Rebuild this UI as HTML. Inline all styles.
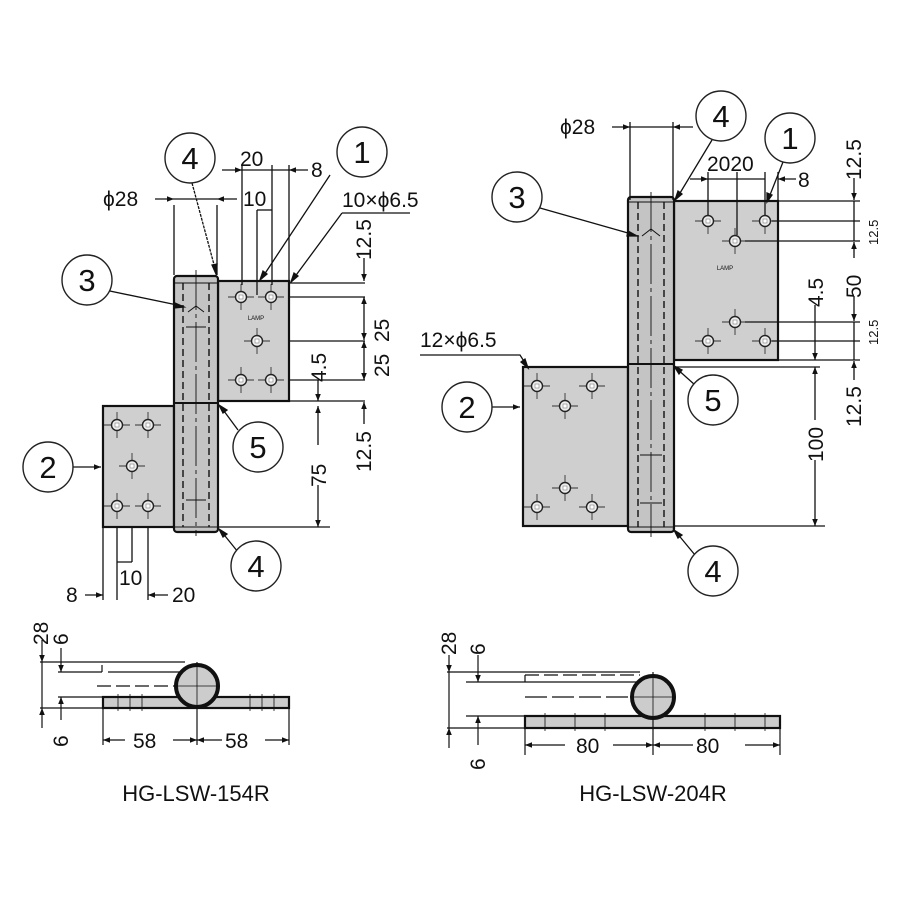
<!DOCTYPE html>
<html><head><meta charset="utf-8"><style>
html,body{margin:0;padding:0;background:#fff}
svg{display:block}
text{font-family:"Liberation Sans",sans-serif;fill:#111}
</style></head><body>
<svg width="900" height="900" viewBox="0 0 900 900" xmlns="http://www.w3.org/2000/svg">
<defs>
<g id="h"><line x1="-13" y1="0" x2="13" y2="0" stroke="#333" stroke-width="0.9"/><line x1="0" y1="-13" x2="0" y2="13" stroke="#333" stroke-width="0.9"/><circle r="5.5" fill="#eee" stroke="#222" stroke-width="1.4"/><rect x="-2" y="-2" width="4" height="4" fill="#fff" stroke="#666" stroke-width="0.5"/></g>
<marker id="a" viewBox="0 0 10 10" refX="10" refY="5" markerWidth="10" markerHeight="7" orient="auto-start-reverse" markerUnits="userSpaceOnUse"><path d="M0,1 L10,5 L0,9z" fill="#111"/></marker>
</defs>
<g stroke="#111" fill="none">
<rect x="218" y="281" width="71" height="120" fill="#cfcfcf" stroke-width="2.2"/>
<rect x="103" y="406" width="71" height="121" fill="#cfcfcf" stroke-width="2.2"/>
<rect x="174" y="276" width="44" height="256" rx="3" fill="#c4c4c4" stroke-width="2.2"/>
<line x1="174" y1="283" x2="218" y2="283" stroke-width="1"/>
<line x1="174" y1="403" x2="218" y2="403" stroke-width="2"/>
<line x1="174" y1="527" x2="218" y2="527" stroke-width="1"/>
<line x1="183" y1="283" x2="183" y2="527" stroke-dasharray="7,4" stroke-width="1.4"/>
<line x1="209" y1="283" x2="209" y2="527" stroke-dasharray="7,4" stroke-width="1.4"/>
<line x1="196" y1="270" x2="196" y2="536" stroke-width="0.9" stroke-dasharray="40,4,4,4"/>
<path d="M186,327 h20 M186,500 h20 M188,312 l8,-6 l8,6" stroke-width="1"/>
<rect x="674" y="201" width="104" height="159" fill="#cfcfcf" stroke-width="2.2"/>
<rect x="523" y="367" width="105" height="159" fill="#cfcfcf" stroke-width="2.2"/>
<rect x="628" y="197" width="46" height="335" rx="3" fill="#c4c4c4" stroke-width="2.2"/>
<line x1="628" y1="202" x2="674" y2="202" stroke-width="1"/>
<line x1="628" y1="364" x2="674" y2="364" stroke-width="2"/>
<line x1="628" y1="527" x2="674" y2="527" stroke-width="1"/>
<line x1="638" y1="202" x2="638" y2="527" stroke-dasharray="7,4" stroke-width="1.4"/>
<line x1="664" y1="202" x2="664" y2="527" stroke-dasharray="7,4" stroke-width="1.4"/>
<line x1="651" y1="192" x2="651" y2="537" stroke-width="0.9" stroke-dasharray="40,4,4,4"/>
<path d="M640,455 h22 M640,503 h22 M642,236 l9,-7 l9,7" stroke-width="1"/>
</g>
<use href="#h" x="241" y="297"/><use href="#h" x="271" y="297"/><use href="#h" x="257" y="341"/><use href="#h" x="241" y="380"/><use href="#h" x="271" y="380"/>
<use href="#h" x="117" y="425"/><use href="#h" x="148" y="425"/><use href="#h" x="132" y="466"/><use href="#h" x="117" y="506"/><use href="#h" x="148" y="506"/>
<use href="#h" x="708" y="221"/><use href="#h" x="765" y="221"/><use href="#h" x="735" y="241"/><use href="#h" x="735" y="322"/><use href="#h" x="708" y="341"/><use href="#h" x="765" y="341"/>
<use href="#h" x="537" y="386"/><use href="#h" x="592" y="386"/><use href="#h" x="565" y="406"/><use href="#h" x="565" y="488"/><use href="#h" x="537" y="507"/><use href="#h" x="592" y="507"/>
<text x="256" y="320" font-size="6" text-anchor="middle">LAMP</text>
<text x="725" y="270" font-size="6" text-anchor="middle">LAMP</text>

<g stroke="#111" stroke-width="1.3" fill="none">
<path d="M174,205 V275 M217,205 V275 M242,165 V285 M272,165 V285 M289,165 V285 M257,210 V295"/>
<line x1="155" y1="199" x2="174" y2="199" marker-end="url(#a)"/><line x1="174" y1="199" x2="217" y2="199"/><line x1="237" y1="199" x2="217" y2="199" marker-end="url(#a)"/>
<line x1="222" y1="170" x2="242" y2="170" marker-end="url(#a)"/><line x1="242" y1="170" x2="289" y2="170"/><line x1="308" y1="170" x2="289" y2="170" marker-end="url(#a)"/>
<path d="M257,210 H272"/>
<path d="M342,213 H410 M342,213 L291,282" /><path d="M291,282 l3,-9 l4,3z" fill="#111"/>
<path d="M289,297 H365 M289,341 H365 M289,380 H365 M218,401 H365 M289,283 H365 M218,527 H330"/>
<line x1="364" y1="258" x2="364" y2="281" marker-end="url(#a)"/>
<line x1="364" y1="297" x2="364" y2="340" marker-start="url(#a)" marker-end="url(#a)"/>
<line x1="364" y1="341" x2="364" y2="380" marker-start="url(#a)" marker-end="url(#a)"/>
<line x1="364" y1="424" x2="364" y2="402" marker-end="url(#a)"/>
<line x1="318" y1="380" x2="318" y2="401" marker-end="url(#a)"/>
<line x1="318" y1="445" x2="318" y2="406" marker-end="url(#a)"/>
<line x1="318" y1="485" x2="318" y2="527" marker-end="url(#a)"/>
<path d="M103,527 V600 M117,527 V600 M132,527 V562 M148,527 V600 M117,562 H132"/>
<line x1="85" y1="595" x2="103" y2="595" marker-end="url(#a)"/>
<line x1="168" y1="595" x2="148" y2="595" marker-end="url(#a)"/>
<path d="M192,183 L216,272" stroke-dasharray="3,1"/><path d="M216,274 l-4,-9 l5,-1z" fill="#111"/>
<path d="M330,175 L262,278"/><path d="M260,280 l3,-9 l4,3z" fill="#111"/>
<path d="M105,290 L182,306"/><path d="M184,307 l-9,-4 l-1,5z" fill="#111"/>
<path d="M73,467 L101,467" marker-end="url(#a)"/>
<path d="M238,430 L221,407"/><path d="M219,405 l8,5 l-4,3z" fill="#111"/>
<path d="M238,552 L221,531"/><path d="M219,529 l8,5 l-4,3z" fill="#111"/>

<path d="M630,122 V200 M673,122 V200 M708,172 V215 M737,172 V235 M765,172 V215 M778,172 V205"/>
<line x1="612" y1="127" x2="630" y2="127" marker-end="url(#a)"/><line x1="630" y1="127" x2="673" y2="127"/><line x1="693" y1="127" x2="673" y2="127" marker-end="url(#a)"/>
<line x1="690" y1="179" x2="708" y2="179" marker-end="url(#a)"/><line x1="708" y1="179" x2="765" y2="179"/><line x1="796" y1="179" x2="778" y2="179" marker-end="url(#a)"/>
<path d="M420,355 H520 L527,366"/><path d="M528,368 l-7,-6 l4,-3z" fill="#111"/>
<path d="M778,201 H860 M772,221 H860 M745,241 H860 M745,322 H860 M772,341 H860 M674,360 H860 M674,367 H820 M674,526 H825"/>
<line x1="854" y1="178" x2="854" y2="200" marker-end="url(#a)"/>
<line x1="854" y1="201" x2="854" y2="241"/>
<line x1="854" y1="258" x2="854" y2="242" marker-end="url(#a)"/>
<line x1="854" y1="296" x2="854" y2="321" marker-end="url(#a)"/>
<line x1="854" y1="322" x2="854" y2="360"/>
<line x1="854" y1="380" x2="854" y2="361" marker-end="url(#a)"/>
<line x1="815" y1="305" x2="815" y2="360" marker-end="url(#a)"/>
<line x1="815" y1="420" x2="815" y2="367" marker-end="url(#a)"/>
<line x1="815" y1="460" x2="815" y2="526" marker-end="url(#a)"/>
<path d="M712,140 L677,198"/><path d="M675,200 l3,-9 l4,3z" fill="#111"/>
<path d="M783,162 L768,200"/><path d="M767,202 l0,-9 l5,2z" fill="#111"/>
<path d="M540,208 L635,235"/><path d="M637,236 l-9,-5 l-1,5z" fill="#111"/>
<path d="M492,407 L520,407" marker-end="url(#a)"/>
<path d="M695,385 L676,368"/><path d="M674,366 l8,4 l-3,4z" fill="#111"/>
<path d="M695,555 L676,532"/><path d="M674,530 l8,5 l-4,3z" fill="#111"/>
</g>

<g fill="#fff" stroke="#222" stroke-width="1.4">
<circle cx="190" cy="158" r="25"/><circle cx="362" cy="152" r="25"/><circle cx="87" cy="280" r="25"/><circle cx="48" cy="467" r="25"/><circle cx="258" cy="447" r="25"/><circle cx="256" cy="566" r="25"/>
<circle cx="721" cy="116" r="25"/><circle cx="790" cy="138" r="25"/><circle cx="517" cy="197" r="25"/><circle cx="467" cy="407" r="25"/><circle cx="713" cy="400" r="25"/><circle cx="713" cy="571" r="25"/>
</g>
<g font-size="31" text-anchor="middle">
<text x="190" y="169">4</text><text x="362" y="163">1</text><text x="87" y="291">3</text><text x="48" y="478">2</text><text x="258" y="458">5</text><text x="256" y="577">4</text>
<text x="721" y="127">4</text><text x="790" y="149">1</text><text x="517" y="208">3</text><text x="467" y="418">2</text><text x="713" y="411">5</text><text x="713" y="582">4</text>
</g>

<g font-size="21">
<text x="103" y="206">ϕ28</text>
<text x="240" y="166">20</text><text x="311" y="177">8</text>
<text x="243" y="206">10</text>
<text x="342" y="207">10×ϕ6.5</text>
<text x="66" y="602">8</text><text x="119" y="585">10</text><text x="172" y="602">20</text>
<text x="560" y="134">ϕ28</text>
<text x="707" y="171">2020</text><text x="798" y="187">8</text>
<text x="420" y="347">12×ϕ6.5</text>
<text transform="translate(371,260) rotate(-90)">12.5</text>
<text transform="translate(389,342) rotate(-90)">25</text>
<text transform="translate(389,377) rotate(-90)">25</text>
<text transform="translate(371,472) rotate(-90)">12.5</text>
<text transform="translate(326,382) rotate(-90)">4.5</text>
<text transform="translate(326,487) rotate(-90)">75</text>
<text transform="translate(861,180) rotate(-90)">12.5</text>
<text transform="translate(861,298) rotate(-90)">50</text>
<text transform="translate(861,427) rotate(-90)">12.5</text>
<text transform="translate(823,307) rotate(-90)">4.5</text>
<text transform="translate(823,462) rotate(-90)">100</text>
</g>
<g font-size="13">
<text transform="translate(878,245) rotate(-90)">12.5</text>
<text transform="translate(878,345) rotate(-90)">12.5</text>
</g>

<g stroke="#111" fill="none" stroke-width="1.2">
<rect x="103" y="697" width="186" height="11" fill="#ccc" stroke-width="2.2"/>
<path d="M103,697 V745 M289,697 V745 M197,662 V745"/>
<path d="M40,662 H185 M58,672 H102 M102,665 V672 M108,662 H185 M108,672 H180"/>
<path d="M97,686 H190" stroke-dasharray="14,5"/>
<path d="M40,708 H103 M58,697 H103"/>
<line x1="42" y1="640" x2="42" y2="662" marker-end="url(#a)"/><line x1="42" y1="662" x2="42" y2="708"/><line x1="42" y1="728" x2="42" y2="708" marker-end="url(#a)"/>
<line x1="61" y1="648" x2="61" y2="672" marker-end="url(#a)"/>
<line x1="61" y1="720" x2="61" y2="697" marker-end="url(#a)"/>
<line x1="125" y1="740" x2="103" y2="740" marker-end="url(#a)"/><line x1="173" y1="740" x2="197" y2="740" marker-end="url(#a)"/>
<line x1="222" y1="740" x2="197" y2="740" marker-end="url(#a)"/><line x1="265" y1="740" x2="289" y2="740" marker-end="url(#a)"/>
<path d="M118,694 v17 M130,694 v17 M142,694 v17 M250,694 v17 M262,694 v17 M274,694 v17" stroke-width="0.8"/>
<circle cx="197" cy="686" r="21" fill="#ccc" stroke-width="4"/>
<path d="M174,686 H220 M197,663 V709" stroke-width="0.8"/>
<rect x="525" y="716" width="255" height="12" fill="#ccc" stroke-width="2.2"/>
<path d="M525,716 V755 M780,716 V755 M653,672 V755"/>
<path d="M447,672 H640 M466,682 H525 M525,675 V682 M525,682 H640"/>
<path d="M525,675 H640" stroke-dasharray="14,5"/>
<path d="M525,697 H640" stroke-dasharray="22,5"/>
<path d="M447,728 H525 M466,716 H525"/>
<line x1="449" y1="655" x2="449" y2="672" marker-end="url(#a)"/><line x1="449" y1="672" x2="449" y2="728"/><line x1="449" y1="748" x2="449" y2="728" marker-end="url(#a)"/>
<line x1="478" y1="655" x2="478" y2="682" marker-end="url(#a)"/>
<line x1="478" y1="745" x2="478" y2="716" marker-end="url(#a)"/>
<line x1="565" y1="745" x2="525" y2="745" marker-end="url(#a)"/><line x1="613" y1="745" x2="653" y2="745" marker-end="url(#a)"/>
<line x1="693" y1="745" x2="653" y2="745" marker-end="url(#a)"/><line x1="745" y1="745" x2="780" y2="745" marker-end="url(#a)"/>
<path d="M545,713 v18 M575,713 v18 M605,713 v18 M705,713 v18 M735,713 v18 M765,713 v18" stroke-width="0.8"/>
<circle cx="653" cy="697" r="21" fill="#ccc" stroke-width="4"/>
<path d="M630,697 H676 M653,674 V720" stroke-width="0.8"/>
</g>
<g font-size="21">
<text transform="translate(48,645) rotate(-90)">28</text>
<text transform="translate(68,645) rotate(-90)">6</text>
<text transform="translate(68,747) rotate(-90)">6</text>
<text x="133" y="748">58</text><text x="225" y="748">58</text>
<text transform="translate(456,655) rotate(-90)">28</text>
<text transform="translate(485,655) rotate(-90)">6</text>
<text transform="translate(485,770) rotate(-90)">6</text>
<text x="576" y="753">80</text><text x="696" y="753">80</text>
</g>
<g font-size="22" text-anchor="middle">
<text x="196" y="801">HG-LSW-154R</text>
<text x="653" y="801">HG-LSW-204R</text>
</g>
</svg>
</body></html>
